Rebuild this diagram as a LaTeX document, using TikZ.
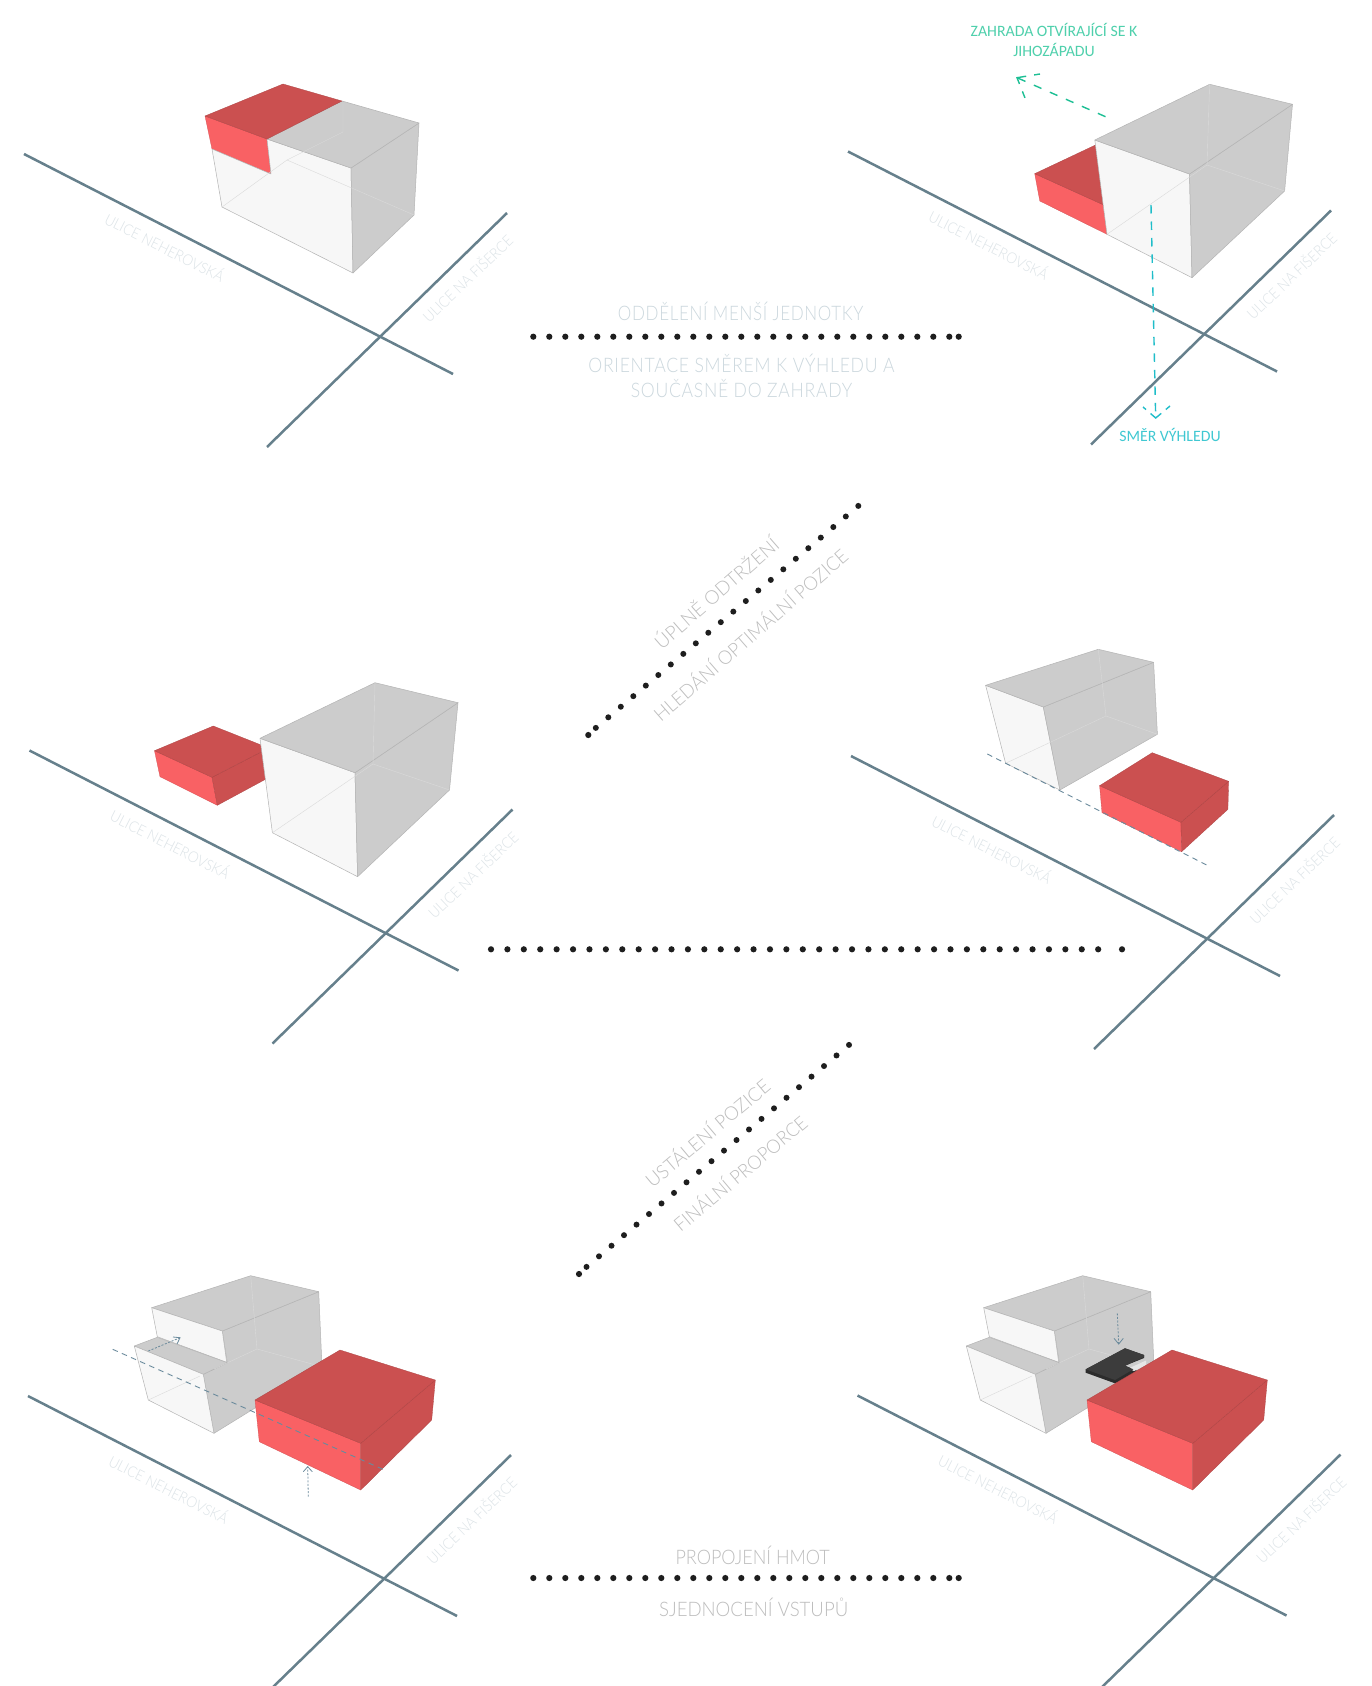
\documentclass[tikz,border=0pt]{standalone}
\usepackage{fontspec}
\setmainfont{Lato}[UprightFont=* Light]
\newfontfamily\calb{Carlito}
\tikzset{
  x=1pt,y=-1pt,
  streetline/.style={draw=streetc,line width=2.5pt},
  streetlbl/.style={text=streetl,font=\fontsize{15}{15}\selectfont,inner sep=0pt},
  face/.style={draw=edgec,line width=.5pt,line join=round},
  whiteface/.style={face,fill=whitec},
  greyface/.style={face,fill=greyc},
  redfront/.style={fill=redf,draw=redf!85!black,line width=.3pt,line join=round},
  redtop/.style={fill=redt,draw=redt!85!black,line width=.3pt,line join=round},
  hiddenl/.style={draw=hiddenc,line width=.4pt},
  bigdot/.style={fill=dotc,draw=none},
  captionb/.style={text=capb,font=\fontsize{20}{20}\selectfont,inner sep=0pt},
  captiong/.style={text=capg,font=\fontsize{19}{19}\selectfont,inner sep=0pt},
  captionh/.style={text=capg,font=\fontsize{20}{20}\selectfont,inner sep=0pt},
  dashg/.style={draw=garrow,line width=1.4pt,dash pattern=on 8.3pt off 9.2pt},
  dashc/.style={draw=carrow,line width=1.4pt,dash pattern=on 8.5pt off 8pt},
  headg/.style={draw=garrow,line width=1.4pt,dash pattern=on 6pt off 8pt on 16pt off 8pt on 7pt},
  headc/.style={draw=carrow,line width=1.4pt,dash pattern=on 4pt off 6pt on 14pt off 6pt on 6pt},
  guide/.style={draw=guidec,line width=.9pt,dash pattern=on 5.5pt off 4.5pt},
  dotarrow/.style={draw=guidec,line width=.8pt,dash pattern=on 2pt off 1.6pt},
  headl/.style={draw=guidec,line width=.8pt},
}
\definecolor{streetc}{HTML}{66808C}
\definecolor{streetl}{HTML}{DCE3E7}
\definecolor{edgec}{HTML}{B4B4B4}
\definecolor{hiddenc}{HTML}{DADADA}
\definecolor{whitec}{HTML}{F7F7F7}
\definecolor{greyc}{HTML}{CCCCCC}
\definecolor{redf}{HTML}{F96164}
\definecolor{redt}{HTML}{CB5050}
\definecolor{dotc}{HTML}{1E1E1E}
\definecolor{capb}{HTML}{CBD7DD}
\definecolor{capg}{HTML}{BDBDBD}
\definecolor{garrow}{HTML}{1DBF94}
\definecolor{carrow}{HTML}{1FBDC9}
\definecolor{gtext}{HTML}{4FD0AC}
\definecolor{ctext}{HTML}{40C8D2}
\definecolor{guidec}{HTML}{6A8A9C}
\definecolor{slabt}{HTML}{3C3C3C}
\definecolor{slabs}{HTML}{2C2C2C}
\definecolor{notchc}{HTML}{E6E6E6}
\newcommand{\streets}[3]{%
\begin{scope}[shift={(#1,#2)}]
  \coordinate (a#3) at (24,154);
  \coordinate (b#3) at (453,374);
  \coordinate (c#3) at (267,447);
  \coordinate (d#3) at (507,213);
  \path[streetline] (a#3) -- (b#3);
  \path[streetline] (c#3) -- (d#3);
  \node[streetlbl,rotate=-27] (sa#3) at (165,247) {\scalebox{.92}[1]{ULICE NEHEROVSKÁ}};
  \node[streetlbl,rotate=43.5] (sb#3) at (467,278) {\scalebox{.92}[1]{ULICE NA FIŠERCE}};
\end{scope}}
\newcommand{\rowdots}[1]{%
  \foreach \k in {0,...,26} \fill[bigdot] ({533.3+16*\k},#1) circle (3.1pt);
  \fill[bigdot] (958.7,#1) circle (3.1pt);}
\newcommand{\diagdots}[2]{%
  \foreach \k in {-1,...,20} \fill[bigdot] ({#1+12.5*\k},{#2-10.57*\k}) circle (3pt);
  \fill[bigdot] ({#1-20},{#2+17.7}) circle (3.1pt);}
\newcommand{\hs}[2]{\scalebox{#1}[1]{#2}}
\begin{document}
\begin{tikzpicture}
\useasboundingbox (0,0) rectangle (1372,1686);
\clip (0,0) rectangle (1372,1686);
\fill[white] (0,0) rectangle (1372,1686);
% ---- panel 1
\streets{0}{0}{p}
\path[redfront] (205,116) -- (267,139) -- (271,174) -- (212,149) -- cycle;
\path[whiteface] (267,139) -- (351,168) -- (353,273) -- (222,207) -- (212,149) -- (271,174) -- cycle;
\path[greyface] (351,168) -- (419,123) -- (414,215) -- (353,273) -- cycle;
\path[greyface] (267,139) -- (342,101) -- (419,123) -- (351,168) -- cycle;
\path[redtop] (205,116) -- (283,84) -- (342,101) -- (267,139) -- cycle;
\draw[hiddenl] (343,104) -- (343,132) -- (287,160) -- (222,207);
\draw[hiddenl] (287,160) -- (414,215);
% ---- panel 2
\streets{824}{-2.5}{q}
\path[redfront] (1034.7,173.7) -- (1103.8,205) -- (1107,234.3) -- (1039.8,201) -- cycle;
\path[redtop] (1034.7,173.7) -- (1095.5,145) -- (1103.8,205) -- cycle;
\path[whiteface] (1094.8,140) -- (1189.5,174) -- (1192,277.7) -- (1107,234.3) -- cycle;
\path[greyface] (1189.5,174) -- (1292.5,104.3) -- (1284.6,191) -- (1192,277.7) -- cycle;
\path[greyface] (1094.8,140) -- (1209.6,84.3) -- (1292.5,104.3) -- (1189.5,174) -- cycle;
\draw[hiddenl] (1209.6,84.3) -- (1207,165) -- (1107,234.3);
\draw[hiddenl] (1207,165) -- (1284.6,191);
\coordinate (g1) at (1105.5,116.7);
\coordinate (g2) at (1017,77.7);
\coordinate (g3) at (1040,74);
\coordinate (g4) at (1025,98);
\draw[dashg] (g1) -- (g2);
\draw[headg] (g3) -- (g2) -- (g4);
\coordinate (c1) at (1151,205);
\coordinate (c2) at (1155.7,418);
\coordinate (c3) at (1143,407);
\coordinate (c4) at (1170,406);
\draw[dashc] (c1) -- (c2);
\draw[headc] (c3) -- (c2) -- (c4);
\node[text=gtext,font=\calb\fontsize{15.8}{20}\selectfont,align=center,inner sep=0pt] (tz) at (1054,40) {ZAHRADA OTVÍRAJÍCÍ SE K\\JIHOZÁPADU};
\node[text=ctext,font=\calb\fontsize{15.8}{15.8}\selectfont,inner sep=0pt] (ts) at (1170,435) {SMĚR VÝHLEDU};
% ---- panel 3
\streets{5.5}{596.5}{r}
\path[redfront] (154.5,750.7) -- (212,777.3) -- (217.3,805.3) -- (160,776.7) -- cycle;
\path[redtop] (212,777.3) -- (263.6,750.7) -- (266,779) -- (217.3,805.3) -- cycle;
\path[redtop] (154.5,750.7) -- (213.3,726) -- (263.6,746) -- (263.6,750.7) -- (212,777.3) -- cycle;
\path[whiteface] (260,738.3) -- (355,772.7) -- (357.6,876.7) -- (272.4,832.7) -- cycle;
\path[greyface] (355,772.7) -- (458,702.7) -- (449.5,790) -- (357.6,876.7) -- cycle;
\path[greyface] (260,738.3) -- (375,682.7) -- (458,702.7) -- (355,772.7) -- cycle;
\draw[hiddenl] (375,682.7) -- (373,764) -- (272.4,832.7);
\draw[hiddenl] (373,764) -- (449.5,790);
% ---- panel 4
\streets{827}{602}{s}
\path[whiteface] (985.6,685.3) -- (1043.3,707) -- (1059.9,790) -- (1005.6,763.3) -- cycle;
\path[greyface] (1043.3,707) -- (1153.6,662.3) -- (1157.4,734.3) -- (1059.9,790) -- cycle;
\path[greyface] (985.6,685.3) -- (1098.3,649.3) -- (1153.6,662.3) -- (1043.3,707) -- cycle;
\draw[hiddenl] (1098.3,649.3) -- (1106,716) -- (1005.6,763.3);
\draw[hiddenl] (1106,716) -- (1157.4,734.3);
\path[redfront] (1099.6,785.7) -- (1180.9,822.3) -- (1181.6,851.7) -- (1102,812.7) -- cycle;
\path[redtop] (1180.9,822.3) -- (1228.6,781.3) -- (1227.9,809.3) -- (1181.6,851.7) -- cycle;
\path[redtop] (1099.6,785.7) -- (1152.2,752.7) -- (1228.6,781.3) -- (1180.9,822.3) -- cycle;
\coordinate (h1) at (987.3,754);
\coordinate (h2) at (1208.6,866);
\draw[guide] (h1) -- (h2);
% ---- panel 5 and 6
\newcommand{\finalblock}{%
  \path[greyface] (222.3,1331) -- (318.7,1291.7) -- (322,1366.7) -- (214,1433.3) -- (203.3,1374.3) -- (227.3,1362.7) -- cycle;
  \path[greyface] (151.7,1307.7) -- (250.7,1275.7) -- (318.7,1291.7) -- (222.3,1331) -- cycle;
  \path[whiteface] (151.7,1307.7) -- (222.3,1331) -- (226.7,1362.3) -- (157.3,1336.7) -- cycle;
  \path[greyface] (134.3,1346) -- (157.3,1337.3) -- (227.3,1362.7) -- (203.3,1374.3) -- cycle;
  \path[whiteface] (134.3,1346) -- (203.3,1374.3) -- (214,1433.3) -- (148.3,1400) -- cycle;
  \draw[hiddenl] (250.7,1275.7) -- (257,1349);
  \draw[hiddenl] (257,1349) -- (214,1369);
  \draw[hiddenl] (200,1376) -- (148.3,1400);
  \draw[hiddenl] (257,1349) -- (322,1366.7);
}
\newcommand{\finalred}{%
  \path[redfront] (255,1400) -- (360.7,1443.3) -- (360.7,1490) -- (259.3,1441.7) -- cycle;
  \path[redtop] (360.7,1443.3) -- (435.3,1380) -- (431.7,1420) -- (360.7,1490) -- cycle;
  \path[redtop] (255,1400) -- (340,1350) -- (435.3,1380) -- (360.7,1443.3) -- cycle;
}
\streets{4}{1242}{t}
\finalblock
\finalred
\coordinate (i1) at (112.7,1349.3);
\coordinate (i2) at (386.7,1471);
\draw[guide] (i1) -- (i2);
\coordinate (j1) at (148.3,1351);
\coordinate (j2) at (180,1337.7);
\coordinate (j3) at (173,1337);
\coordinate (j4) at (177,1344);
\draw[dotarrow] (j1) -- (j2);
\draw[headl] (j3) -- (j2) -- (j4);
\coordinate (k1) at (308.3,1496.7);
\coordinate (k2) at (307.7,1466.7);
\coordinate (k3) at (303.3,1471.7);
\coordinate (k4) at (312.3,1471.7);
\draw[dotarrow] (k1) -- (k2);
\draw[headl] (k3) -- (k2) -- (k4);
\streets{833.5}{1241.5}{u}
\begin{scope}[shift={(832,0)}]
\finalblock
\end{scope}
% slab
\path[fill=slabs] (1085.7,1369.3) -- (1085.7,1372.7) -- (1115,1383.3) -- (1140,1372) -- (1125,1365.7) -- (1144,1358) -- (1144,1355) -- (1125,1348.3) -- cycle;
\path[fill=notchc] (1128.5,1368.5) -- (1134,1371) -- (1146,1365) -- (1146,1360.5) -- cycle;
\path[fill=slabt] (1085.7,1369.3) -- (1125,1348.3) -- (1144,1355) -- (1144,1357) -- (1125,1365.7) -- (1133.3,1369.3) -- (1115,1380) -- cycle;
\begin{scope}[shift={(832,0)}]
\finalred
\end{scope}
\coordinate (m1) at (1117.3,1313.3);
\coordinate (m2) at (1118.7,1344);
\coordinate (m3) at (1114,1338.3);
\coordinate (m4) at (1123.3,1338.3);
\draw[dotarrow] (m1) -- (m2);
\draw[headl] (m3) -- (m2) -- (m4);
% ---- dotted rows
\rowdots{336.7}
\rowdots{1578}
\diagdots{608.3}{717.3}
\diagdots{599}{1256.3}
\foreach \k in {0,...,37} \fill[bigdot] ({491+16.41*\k},949.3) circle (3.1pt);
\fill[bigdot] (1122,949.3) circle (3.1pt);
% ---- captions
\node[captionb] (t1) at (740.7,311) {\hs{.85}{\addfontfeature{LetterSpace=4}ODDĚLENÍ MENŠÍ JEDNOTKY}};
\node[captionb] (t2) at (741.5,363) {\hs{.88}{\addfontfeature{LetterSpace=4}ORIENTACE SMĚREM K VÝHLEDU A}};
\node[captionb] (t3) at (741.5,389) {\hs{.88}{\addfontfeature{LetterSpace=4}SOUČASNĚ DO ZAHRADY}};
\node[captiong,rotate=41] (t4) at (715.7,592) {\hs{1}{ÚPLNĚ ODTRŽENÍ}};
\node[captiong,rotate=41] (t5) at (749.7,634) {\hs{.97}{HLEDÁNÍ OPTIMÁLNÍ POZICE}};
\node[captiong,rotate=40] (t6) at (706.7,1132.3) {\hs{.99}{USTÁLENÍ POZICE}};
\node[captiong,rotate=40] (t7) at (739.5,1172.5) {\hs{.955}{FINÁLNÍ PROPORCE}};
\node[captionh] (t8) at (752.7,1555.5) {\hs{.90}{PROPOJENÍ HMOT}};
\node[captionh] (t9) at (753.7,1607) {\hs{.93}{SJEDNOCENÍ VSTUPŮ}};
\end{tikzpicture}
\end{document}
